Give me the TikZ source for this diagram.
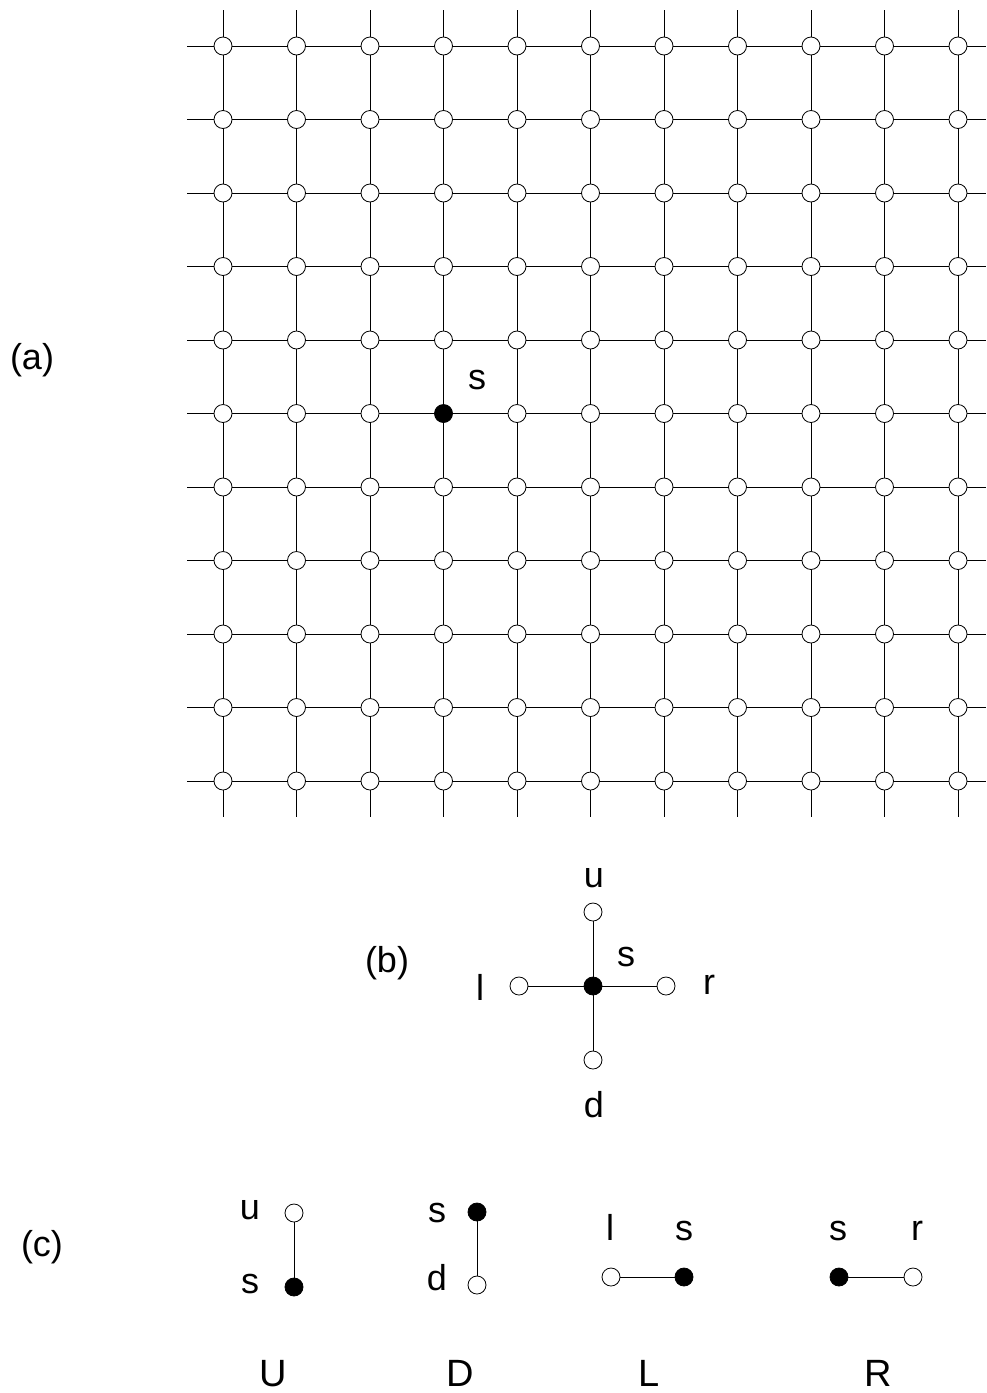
\documentclass[tikz,border=0pt]{standalone}
\usepackage{fontspec}
\setmainfont{Liberation Sans}
\begin{document}
\begin{tikzpicture}[x=1pt,y=-1pt,
  vtx/.style={circle,draw=black,fill=white,line width=0.8pt,minimum size=18pt,inner sep=0pt},
  src/.style={circle,draw=black,fill=black,line width=0.8pt,minimum size=18pt,inner sep=0pt},
  edge/.style={draw=black,line width=0.8pt},
  lbl/.style={inner sep=0pt,font=\fontsize{36}{40}\selectfont},
  big/.style={inner sep=0pt,font=\fontsize{38}{42}\selectfont}]
\useasboundingbox (0,0) rectangle (986,1393);
% (a) grid nodes
\foreach \i in {0,...,10}{
  \foreach \j in {0,...,10}{
    \pgfmathsetmacro{\xx}{223+73.5*\i}
    \pgfmathsetmacro{\yy}{46+73.5*\j}
    \ifnum\i=3 \ifnum\j=5
      \node[src] (n-\i-\j) at (\xx,\yy) {};
    \else
      \node[vtx] (n-\i-\j) at (\xx,\yy) {};
    \fi\else
      \node[vtx] (n-\i-\j) at (\xx,\yy) {};
    \fi
  }
}
% free ends
\foreach \j in {0,...,10}{
  \pgfmathsetmacro{\yy}{46+73.5*\j}
  \coordinate (le-\j) at (187,\yy);
  \coordinate (re-\j) at (986,\yy);
  \draw[edge] (le-\j) -- (n-0-\j);
  \draw[edge] (n-10-\j) -- (re-\j);
}
\foreach \i in {0,...,10}{
  \pgfmathsetmacro{\xx}{223+73.5*\i}
  \coordinate (te-\i) at (\xx,10);
  \coordinate (be-\i) at (\xx,817);
  \draw[edge] (te-\i) -- (n-\i-0);
  \draw[edge] (n-\i-10) -- (be-\i);
}
\foreach \i [evaluate=\i as \k using int(\i+1)] in {0,...,9}{
  \foreach \j in {0,...,10}{
    \draw[edge] (n-\i-\j) -- (n-\k-\j);
    \draw[edge] (n-\j-\i) -- (n-\j-\k);
  }
}
\node[lbl] (sa) at (477,380) {s};
\node[lbl] (la) at (32,360) {(a)};
% (b)
\node[src] (bs) at (593,986) {};
\node[vtx] (bu) at (593,912) {};
\node[vtx] (bd) at (593,1060) {};
\node[vtx] (bl) at (519,986) {};
\node[vtx] (br) at (666,986) {};
\draw[edge] (bs) -- (bu);
\draw[edge] (bs) -- (bd);
\draw[edge] (bs) -- (bl);
\draw[edge] (bs) -- (br);
\node[lbl] (tu) at (594,878) {u};
\node[lbl] (ts) at (626,957) {s};
\node[lbl] (tl) at (480,987) {l};
\node[lbl] (tr) at (709,985) {r};
\node[lbl] (td) at (594,1105) {d};
\node[lbl] (lb) at (387,963) {(b)};
% (c)
\node[lbl] (lc) at (42,1247) {(c)};
% U
\node[vtx] (uu) at (294,1213) {};
\node[src] (us) at (294,1287) {};
\draw[edge] (uu) -- (us);
\node[lbl,anchor=base] (uut) at (250,1219) {u};
\node[lbl,anchor=base] (ust) at (250,1293) {s};
% D
\node[src] (ds) at (477,1212) {};
\node[vtx] (dd) at (477,1285) {};
\draw[edge] (ds) -- (dd);
\node[lbl,anchor=base] (dst) at (437,1222) {s};
\node[lbl,anchor=base] (ddt) at (437,1290) {d};
% L
\node[vtx] (ll) at (611,1277) {};
\node[src] (ls) at (684,1277) {};
\draw[edge] (ll) -- (ls);
\node[lbl,anchor=base] (llt) at (610,1240) {l};
\node[lbl,anchor=base] (lst) at (684,1240) {s};
% R
\node[src] (rs) at (839,1277) {};
\node[vtx] (rr) at (913,1277) {};
\draw[edge] (rs) -- (rr);
\node[lbl,anchor=base] (rst) at (838,1240) {s};
\node[lbl,anchor=base] (rrt) at (917,1240) {r};
% captions
\node[big,anchor=base] (cU) at (273,1386) {U};
\node[big,anchor=base] (cD) at (460,1386) {D};
\node[big,anchor=base] (cL) at (649,1386) {L};
\node[big,anchor=base] (cR) at (878,1386) {R};
\end{tikzpicture}
\end{document}
